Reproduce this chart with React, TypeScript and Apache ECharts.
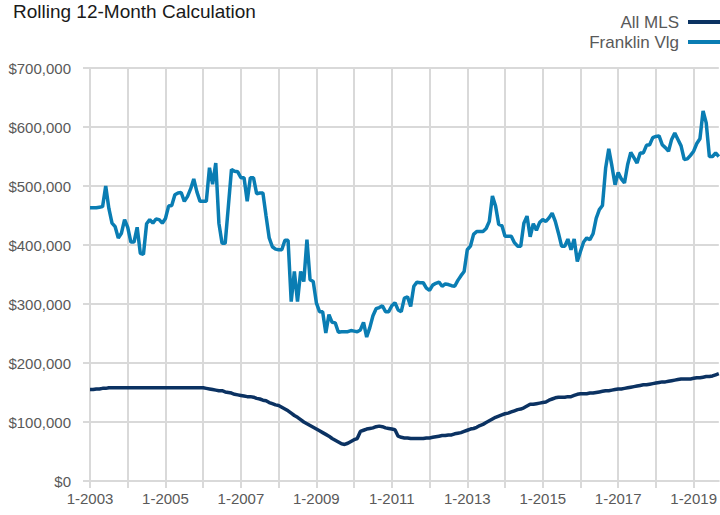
import React, { useEffect, useRef } from "react";
import * as echarts from "echarts";

const TITLE = "Rolling 12-Month Calculation";
const SERIES_NAMES = ["All MLS", "Franklin Vlg"];
const START_YEAR = 2003;
const MONTH_COUNT = 201; // 1-2003 .. 9-2019

// Values in thousands of dollars, one per month from 1-2003
const allMls: number[] = [
  155, 155, 156, 156, 157, 157, 158, 158, 158, 158, 158, 158,
  158, 158, 158, 158, 158, 158, 158, 158, 158, 158, 158, 158,
  158, 158, 158, 158, 158, 158, 158, 158, 158, 158, 158, 158,
  158, 157, 156, 155, 154, 153, 153, 151, 150, 149, 147, 146,
  145, 144, 143, 143, 142, 140, 139, 137, 136, 133, 131, 129,
  128, 125, 122, 119, 115, 111, 108, 104, 100, 97, 94, 91,
  88, 85, 82, 79, 76, 72, 69, 66, 63, 62, 64, 67,
  70, 72, 84, 86, 88, 89, 90, 92, 93, 92, 90, 89,
  88, 87, 76, 74, 73, 73, 72, 72, 72, 72, 72, 73,
  73, 74, 75, 76, 77, 77, 78, 78, 80, 81, 82, 84,
  86, 88, 89, 91, 94, 96, 99, 102, 105, 108, 110, 112,
  114, 115, 117, 119, 121, 122, 124, 127, 130, 130, 131, 132,
  133, 134, 137, 139, 141, 142, 142, 142, 143, 143, 145, 147,
  148, 148, 148, 149, 149, 150, 151, 152, 153, 153, 154, 155,
  156, 156, 157, 158, 159, 160, 161, 162, 163, 163, 164, 165,
  166, 167, 168, 168, 169, 170, 171, 172, 173, 173, 173, 173,
  174, 175, 175, 176, 177, 177, 178, 180, 182,
];

const franklinVlg: number[] = [
  463, 463, 463, 464, 465, 500, 462, 437, 431, 412, 420, 443,
  430, 405, 405, 430, 386, 384, 436, 443, 437, 444, 443, 437,
  445, 466, 467, 485, 488, 489, 474, 482, 495, 512, 490, 474,
  474, 474, 531, 503, 539, 437, 403, 403, 465, 528, 525, 524,
  514, 514, 474, 514, 514, 487, 488, 488, 449, 412, 397, 393,
  392, 392, 408, 408, 304, 355, 304, 355, 338, 409, 341, 338,
  302, 287, 287, 251, 282, 269, 268, 252, 253, 253, 253, 255,
  254, 253, 256, 269, 244, 260, 280, 292, 294, 297, 287, 287,
  297, 302, 290, 287, 310, 312, 296, 330, 337, 336, 336, 327,
  323, 332, 335, 337, 330, 334, 333, 331, 330, 340, 348, 355,
  392, 398, 418, 423, 423, 423, 428, 440, 483, 466, 435, 433,
  415, 415, 415, 404, 398, 398, 437, 449, 414, 436, 425, 438,
  443, 440, 446, 454, 440, 420, 398, 398, 410, 392, 410, 372,
  389, 405, 412, 409, 419, 445, 460, 467, 530, 563, 534, 502,
  523, 512, 505, 536, 557, 548, 539, 556, 556, 569, 570, 582,
  584, 585, 570, 565, 559, 579, 590, 579, 568, 545, 546, 552,
  559, 572, 580, 627, 607, 550, 550, 556, 550,
];

const Y_MIN = 0;
const Y_MAX = 700000;
const Y_INTERVAL = 100000;

const categories: string[] = [];
for (let i = 0; i < MONTH_COUNT; i++) {
  const y = START_YEAR + Math.floor(i / 12);
  const m = (i % 12) + 1;
  categories.push(`${m}-${y}`);
}

const FONT = '"Liberation Sans", Arial, sans-serif';
const GRID_COLOR = "#d9d9d9";
const TEXT_COLOR = "#595959";

export default function App() {
  const ref = useRef<HTMLDivElement>(null);
  useEffect(() => {
    if (!ref.current) return;
    const chart = echarts.init(ref.current, undefined, { renderer: "svg" });
    chart.setOption({
      animation: false,
      backgroundColor: "#ffffff",
      title: {
        text: TITLE,
        left: 8,
        top: -3,
        textStyle: { fontFamily: FONT, fontSize: 19, fontWeight: "normal", color: "#1a1a1a" },
      },
      legend: {
        orient: "vertical",
        right: 0,
        top: 12,
        padding: 0,
        align: "right",
        itemGap: 0,
        itemWidth: 32,
        itemHeight: 4,
        icon: "rect",
        textStyle: { fontFamily: FONT, fontSize: 17, color: TEXT_COLOR, lineHeight: 20, padding: [0, 4, 0, 0] },
        data: SERIES_NAMES,
      },
      grid: { left: 90, right: 0, top: 68, bottom: 34, containLabel: false },
      xAxis: {
        type: "category",
        data: categories,
        boundaryGap: false,
        axisLine: { show: true, lineStyle: { color: GRID_COLOR, width: 2 } },
        axisTick: { show: true, interval: 11, length: 7, lineStyle: { color: GRID_COLOR, width: 2 } },
        axisLabel: {
          interval: 23,
          fontFamily: FONT,
          fontSize: 15,
          color: TEXT_COLOR,
          margin: 10,
        },
        splitLine: { show: true, interval: 11, lineStyle: { color: GRID_COLOR, width: 2 } },
      },
      yAxis: {
        type: "value",
        min: Y_MIN,
        max: Y_MAX,
        interval: Y_INTERVAL,
        axisLine: { show: true, lineStyle: { color: GRID_COLOR, width: 2 } },
        axisTick: { show: true, length: 7, lineStyle: { color: GRID_COLOR, width: 2 } },
        axisLabel: {
          fontFamily: FONT,
          fontSize: 15,
          color: TEXT_COLOR,
          margin: 19,
          formatter: (v: number) => "$" + v.toLocaleString("en-US"),
        },
        splitLine: { show: true, lineStyle: { color: GRID_COLOR, width: 2 } },
      },
      series: [
        {
          name: SERIES_NAMES[0],
          type: "line",
          data: allMls.map((v) => v * 1000),
          symbol: "none",
          lineStyle: { color: "#0b3262", width: 3.5 },
          itemStyle: { color: "#0b3262" },
          z: 3,
        },
        {
          name: SERIES_NAMES[1],
          type: "line",
          data: franklinVlg.map((v) => v * 1000),
          symbol: "none",
          lineStyle: { color: "#0a7db3", width: 3.5 },
          itemStyle: { color: "#0a7db3" },
          z: 2,
        },
      ],
    });
    return () => chart.dispose();
  }, []);
  return <div ref={ref} style={{ width: 720, height: 515, position: "absolute", left: 0, top: 0 }} />;
}
